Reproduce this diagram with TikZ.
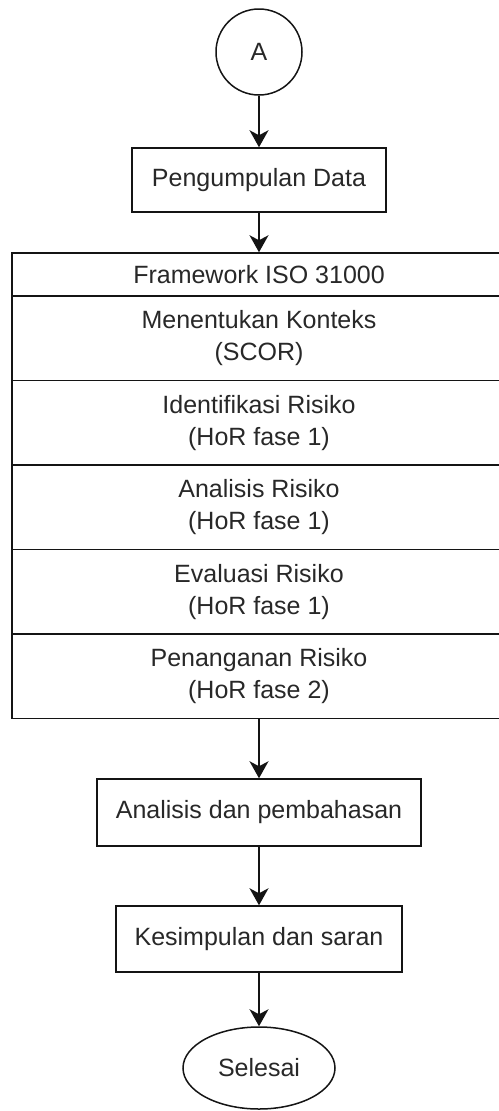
\documentclass[tikz,border=0pt]{standalone}
\usepackage{fontspec}
\setmainfont{Liberation Sans}
\usetikzlibrary{shapes.geometric,arrows.meta}
\definecolor{txt}{RGB}{40,40,40}
\definecolor{ln}{RGB}{20,20,20}
\tikzset{
  base/.style={draw=ln, line width=1.5pt, fill=white, text=txt,
    font=\fontsize{25}{32}\selectfont, align=center, inner sep=0pt},
  procbox/.style={base, rectangle},
  rowbox/.style={base, rectangle, minimum width=494pt},
  conn/.style={draw=ln, line width=1.4pt, -{Stealth[length=17pt,width=19pt,inset=5pt]}},
}
\begin{document}
\begin{tikzpicture}[x=1pt,y=-1pt]
\useasboundingbox (0,0) rectangle (498,1111);
\node[base, circle, minimum size=86pt] (A) at (259,52) {A};
\node[procbox, minimum width=254pt, minimum height=64pt] (pg) at (259,180) {Pengumpulan Data};
\node[rowbox, minimum height=43pt] (fw) at (259,274.5) {Framework ISO 31000};
\node[rowbox, minimum height=84.5pt] (ctx) at (259,338.25) {Menentukan Konteks\\(SCOR)};
\node[rowbox, minimum height=84.5pt] (idr) at (259,422.75) {Identifikasi Risiko\\(HoR fase 1)};
\node[rowbox, minimum height=84.5pt] (anr) at (259,507.25) {Analisis Risiko\\(HoR fase 1)};
\node[rowbox, minimum height=84.5pt] (evr) at (259,591.75) {Evaluasi Risiko\\(HoR fase 1)};
\node[rowbox, minimum height=84.5pt] (pen) at (259,676.25) {Penanganan Risiko\\(HoR fase 2)};
\node[procbox, minimum width=324pt, minimum height=67pt] (an) at (259,812.5) {Analisis dan pembahasan};
\node[procbox, minimum width=286pt, minimum height=66pt] (ks) at (259,939) {Kesimpulan dan saran};
\node[base, ellipse, minimum width=152pt, minimum height=82pt] (end) at (259,1068) {Selesai};
\draw[conn] (A) -- (pg);
\draw[conn] (pg) -- (fw);
\draw[conn] (pen) -- (an);
\draw[conn] (an) -- (ks);
\draw[conn] (ks) -- (end);
\end{tikzpicture}
\end{document}
